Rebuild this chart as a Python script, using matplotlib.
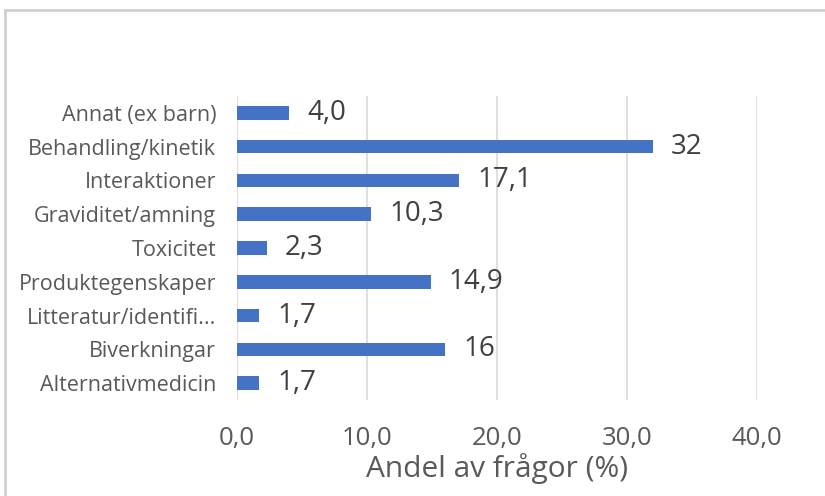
import matplotlib.pyplot as plt
from matplotlib.patches import Rectangle

categories = ['Annat (ex barn)', 'Behandling/kinetik', 'Interaktioner', 'Graviditet/amning',
              'Toxicitet', 'Produktegenskaper', 'Litteratur/identifi...', 'Biverkningar',
              'Alternativmedicin']
values = [4.0, 32, 17.1, 10.3, 2.3, 14.9, 1.7, 16, 1.7]
value_labels = ['4,0', '32', '17,1', '10,3', '2,3', '14,9', '1,7', '16', '1,7']
xticks = [0, 10, 20, 30, 40]
xtick_labels = ['0,0', '10,0', '20,0', '30,0', '40,0']

plt.rcParams['font.family'] = ['Open Sans', 'DejaVu Sans']

fig = plt.figure(figsize=(8.25, 4.96), dpi=100)
ax = fig.add_axes([237 / 825, 1 - 400 / 496, (757 - 237) / 825, (400 - 96) / 496])

# chart frame
fig.patches.append(Rectangle((5 / 825, -0.1), 1.0, 1 - 10 / 496 + 0.1, transform=fig.transFigure,
                             fill=False, edgecolor='#d0d0d0', linewidth=2))

y = list(range(len(categories)))
ax.barh(y, values, height=0.4, color='#4472C4', zorder=3)
for yi, v, lab in zip(y, values, value_labels):
    ax.text(v + 1.4, yi, lab, va='center', ha='left', fontsize=20, color='#404040')

ax.set_ylim(len(categories) - 0.5, -0.5)
ax.set_xlim(0, 40)
ax.set_yticks(y)
ax.set_yticklabels(categories, fontsize=15.5, color='#595959')
ax.set_xticks(xticks)
ax.set_xticklabels(xtick_labels, fontsize=18.5, color='#595959')
ax.tick_params(axis='both', length=0)
ax.tick_params(axis='x', pad=19)
ax.tick_params(axis='y', pad=15)
ax.grid(axis='x', color='#d9d9d9', linewidth=1.2, zorder=0)
for s in ax.spines.values():
    s.set_visible(False)
ax.set_xlabel('Andel av frågor (%)', fontsize=21.5, color='#595959', labelpad=1)

fig.savefig('out.png', dpi=100)
